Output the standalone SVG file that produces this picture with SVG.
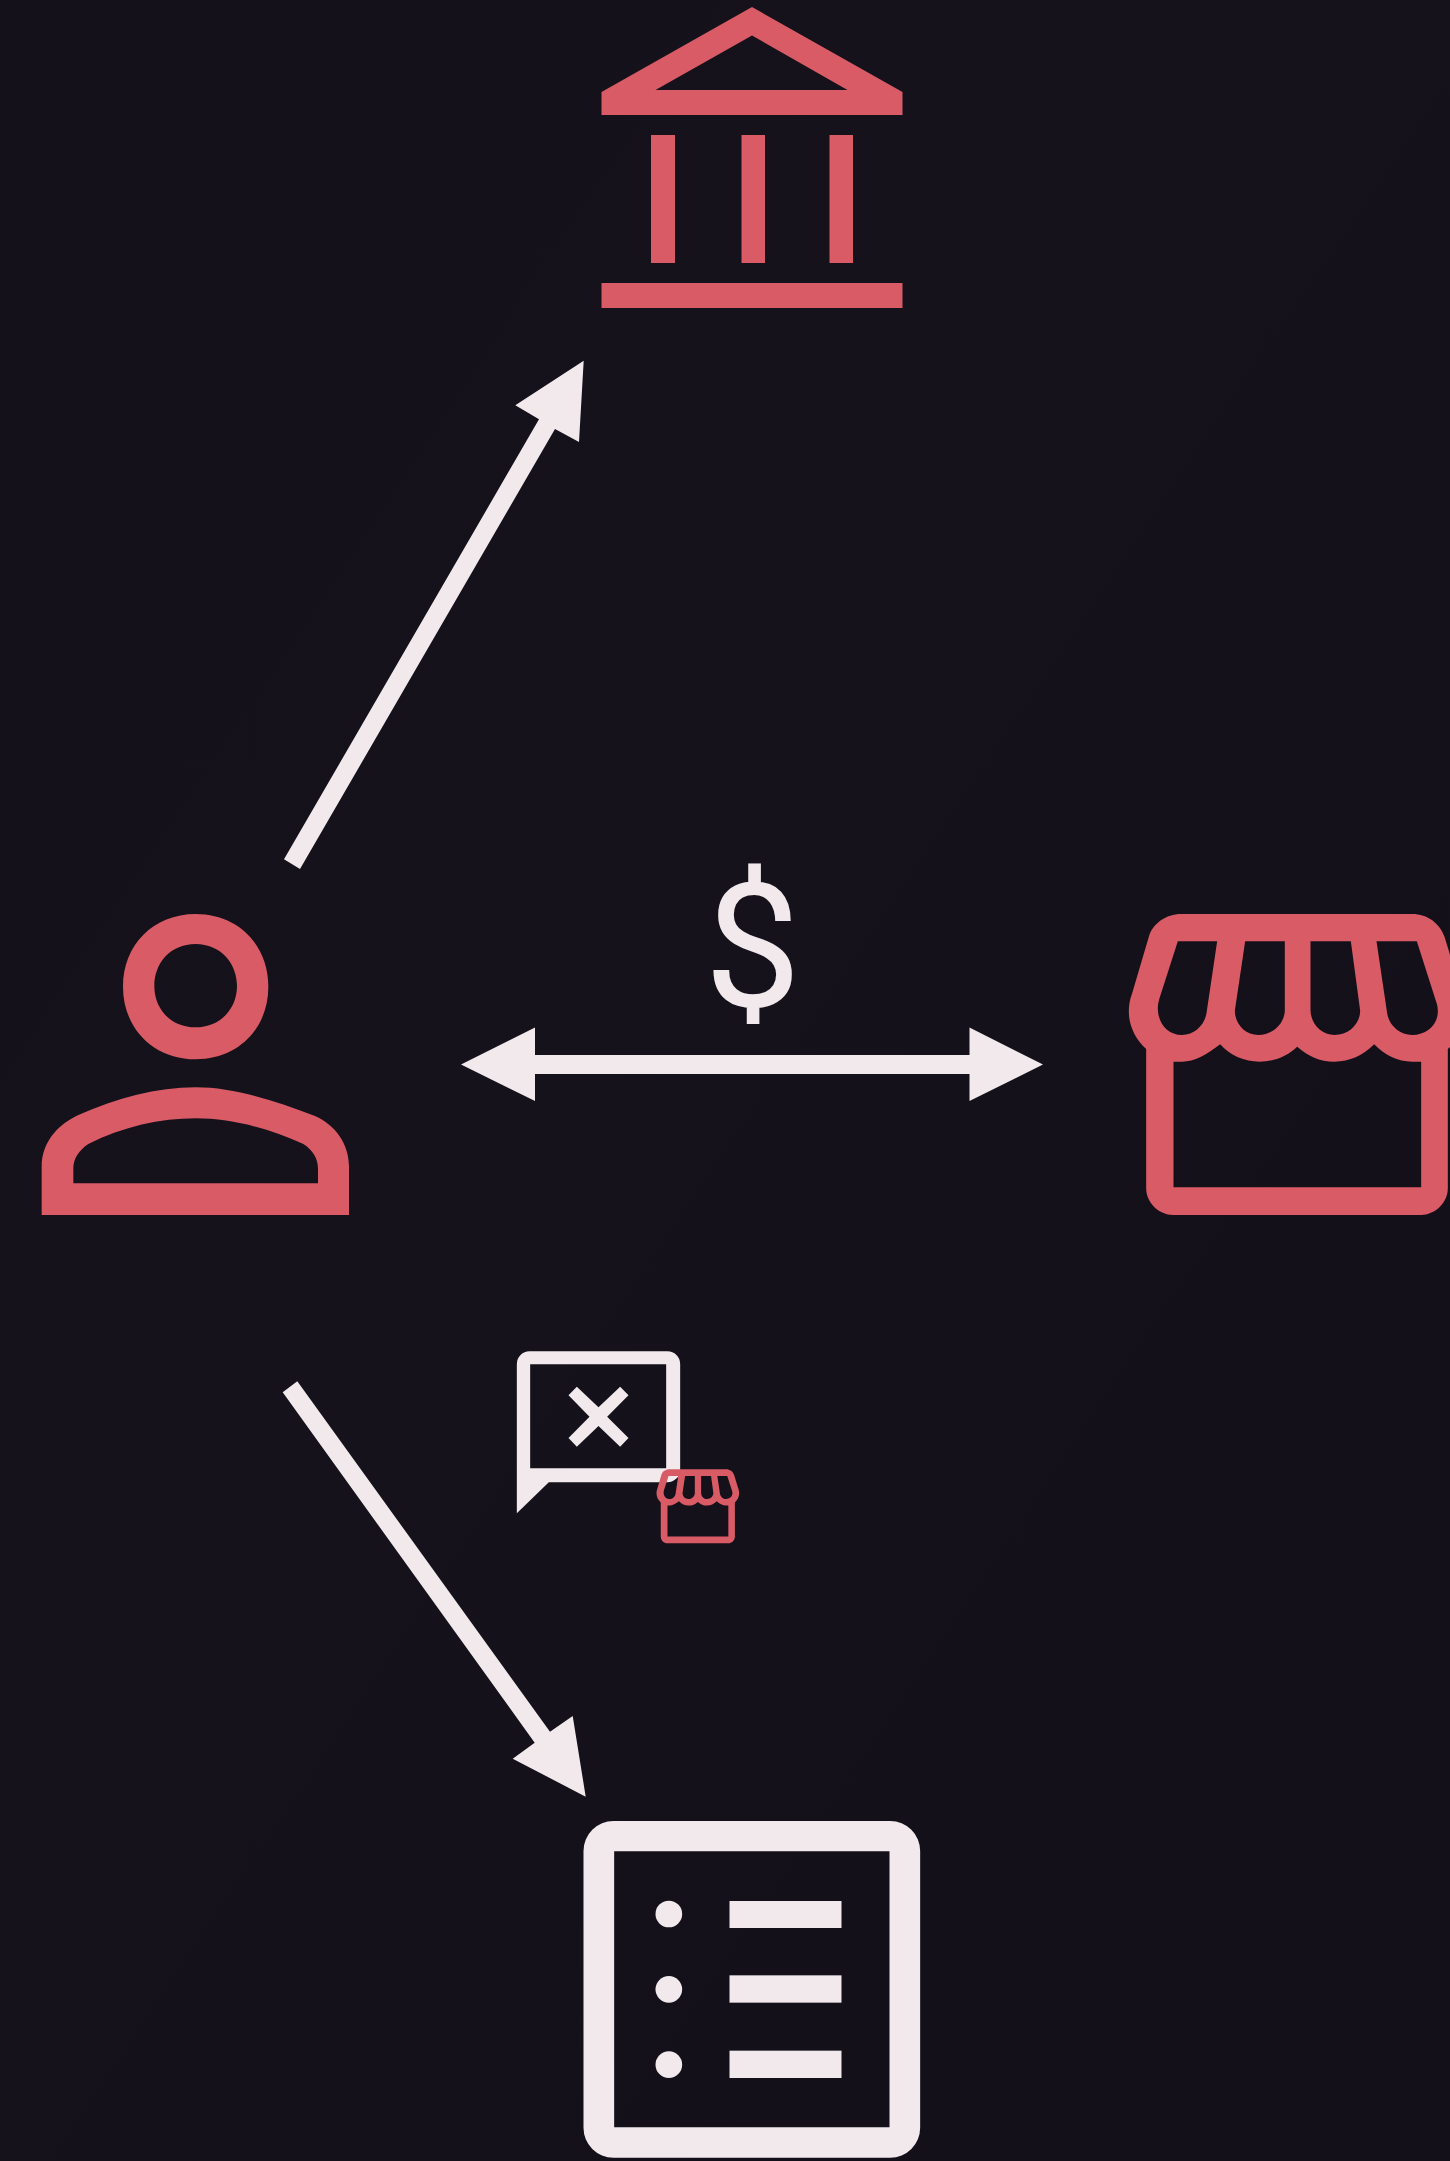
<svg xmlns="http://www.w3.org/2000/svg" width="1450" height="2161" viewBox="0 0 1450 2161">
<style>
.red{fill:#d95b66;fill-rule:evenodd}
.light{fill:#f1e9ec;fill-rule:evenodd}
.label{font-family:"Roboto","Liberation Sans",sans-serif;font-size:172px;font-weight:400;fill:#f1e9ec;text-anchor:middle}
</style>
<defs>
<linearGradient id="bg" x1="0" y1="0" x2="1" y2="1">
<stop offset="0" stop-color="#14111a"/><stop offset="0.45" stop-color="#16121b"/><stop offset="0.75" stop-color="#13101a"/><stop offset="1" stop-color="#13101a"/>
</linearGradient>
<path id="store" d="M215,72 L908,72 C955,72 990,100 1005,140 L1057,310 C1065,330 1067,350 1067,365 C1067,410 1045,450 1015,477 L1015,895 C1015,940 975,975 935,975 L190,975 C150,975 110,940 110,895 L110,477 C80,450 58,410 58,365 C58,350 60,330 68,310 L118,140 C130,100 170,72 215,72 Z
M205,154 L323,154 L291,370 C285,405 255,435 217,435 C175,435 145,400 145,355 C145,345 147,335 150,325 Z
M407,154 L526,154 L526,360 C526,400 490,435 447,435 C405,435 376,400 376,362 Z
M603,154 L724,154 L752,362 C752,400 720,435 675,435 C635,435 603,400 603,360 Z
M801,154 L922,154 L980,335 C984,345 985,355 985,365 C985,405 950,435 908,435 C870,435 838,405 833,370 Z
M192,515 L218,515 C255,515 290,495 332,463 C362,497 405,515 450,515 C495,515 535,497 563,470 C595,497 630,515 675,515 C720,515 760,497 794,463 C825,495 865,515 908,515 L935,515 L935,892 L192,892 Z"/>
</defs>
<rect width="1450" height="2161" fill="url(#bg)"/>
<g id="connectors" class="light">
<polygon points="284,859.3 539,419.3 515.3,405.3 583.7,360.7 579,442 555,429 300,869"/>
<polygon points="461,1064.5 535,1027.5 535,1055 969.5,1055 969.5,1027.5 1043,1064.5 969.5,1101 969.5,1074 535,1074 535,1101"/>
<polygon points="282.7,1392.3 297.3,1381.3 550,1731.7 572.7,1716 585.7,1796.7 512.7,1758.7 534.7,1742.7"/>
</g>
<g id="bank" class="red">
<path d="M752,7 L902.5,92 L902.5,115 L601.5,115 L601.5,92 Z M752,35.5 L655.5,90 L847.5,90 Z"/>
<rect x="651" y="135" width="24" height="128"/>
<rect x="741.5" y="135" width="23.5" height="128"/>
<rect x="829.5" y="135" width="23.5" height="128"/>
<rect x="601.5" y="283" width="301" height="25"/>
</g>
<g id="person" class="red" transform="translate(20,890) scale(0.33333)">
<path d="M527,72 C655,72 745,165 745,290 C745,415 655,508 527,508 C400,508 309,415 309,290 C309,165 400,72 527,72 Z M527,162 C450,162 403,220 403,288 C403,355 450,412 527,412 C602,412 651,355 651,288 C651,220 602,162 527,162 Z"/>
<path d="M65,975 L65,830 C65,760 110,705 175,675 C290,625 410,592 527,592 C640,592 760,630 885,678 C945,705 987,760 987,830 L987,975 Z M160,880 L160,835 C160,805 178,780 205,762 C310,710 420,685 527,685 C635,685 745,715 850,762 C878,780 894,805 894,835 L894,880 Z"/>
</g>
<g id="merchant" class="red" transform="translate(1109.5,890) scale(0.33333)"><use href="#store"/></g>
<g id="dollar"><text class="label" x="752.5" y="1006">$</text></g>
<g id="declined" transform="translate(499.5,1330) scale(0.33333)">
<path class="light" d="M90,64 L504,64 A38,38 0 0 1 542,102 L542,419 A38,38 0 0 1 504,457 L148,457 L52,550 L52,102 A38,38 0 0 1 90,64 Z M92,103 L92,415 L500,415 L500,103 Z"/>
<polygon class="light" points="232,170 297,232 362,170 387,196 323,260 387,324 362,350 297,288 232,350 207,324 270,260 207,196"/>
</g>
<g id="small-store" class="red" transform="translate(651.75,1463.4) scale(0.0819)"><use href="#store"/></g>
<g id="list" class="light" transform="translate(569.5,1810) scale(0.33333)">
<path d="M132,33 L962,33 A90,90 0 0 1 1052,123 L1052,953 A90,90 0 0 1 962,1043 L132,1043 A90,90 0 0 1 42,953 L42,123 A90,90 0 0 1 132,33 Z M134,124 L134,952 L960,952 L960,124 Z"/>
<circle cx="298" cy="312" r="40"/><circle cx="298" cy="538" r="40"/><circle cx="298" cy="764" r="40"/>
<rect x="480" y="273" width="336" height="81"/><rect x="480" y="496" width="336" height="82"/><rect x="480" y="722" width="336" height="82"/>
</g>
</svg>
